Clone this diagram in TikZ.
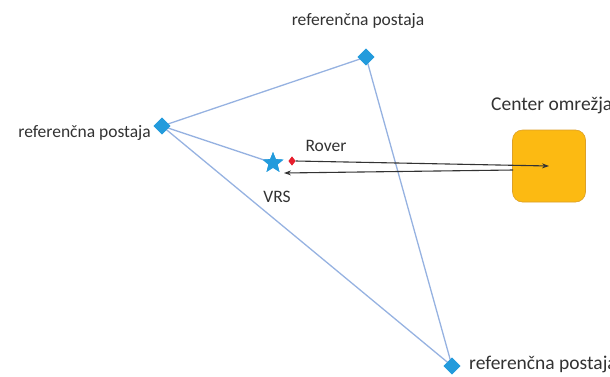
\documentclass[tikz,border=0pt]{standalone}
\usepackage{fontspec}
\setmainfont{Carlito}
\usetikzlibrary{shapes.geometric,arrows.meta}
\definecolor{linkblue}{RGB}{150,178,225}
\definecolor{stblue}{RGB}{35,155,220}
\definecolor{boxorange}{RGB}{252,186,18}
\definecolor{boxedge}{RGB}{220,160,40}
\definecolor{txt}{RGB}{50,50,50}
\definecolor{roverred}{RGB}{230,30,45}
\tikzset{
  station/.style={diamond,fill=stblue,draw=none,minimum width=17pt,minimum height=17pt,inner sep=0pt},
  link/.style={draw=linkblue,line width=1.3pt},
  lbl/.style={text=txt,font=\fontsize{17.5}{20}\selectfont,inner sep=0pt},
  biglbl/.style={text=txt,font=\fontsize{19.5}{22}\selectfont,inner sep=0pt},
  sig/.style={draw=black!80,line width=1.1pt,-{Stealth[length=7pt,width=5pt]}},
}
\begin{document}
\begin{tikzpicture}[x=1pt,y=-1pt]
\useasboundingbox (0,0) rectangle (610,376);
\clip (0,0) rectangle (610,376);
\node[station] (top) at (366,57) {};
\node[station] (left) at (162,126) {};
\node[station] (bot) at (452,366) {};
\node[star,star points=5,star point ratio=2.3,fill=stblue,minimum size=22pt,inner sep=0pt] (vrs) at (273,163) {};
\node[diamond,fill=roverred,minimum width=7pt,minimum height=9pt,inner sep=0pt] (rover) at (292,161) {};
\node[rounded corners=10pt,fill=boxorange,draw=boxedge,line width=0.6pt,minimum width=73pt,minimum height=72pt] (center) at (549,166) {};
\coordinate (inpt) at (549,166);
\coordinate (outpt) at (513,170);
\coordinate (vrsin) at (284,173);
\draw[link] (left.center) -- (top.center);
\draw[link] (top.center) -- (bot.center);
\draw[link] (left.center) -- (bot.center);
\draw[link] (left.center) -- (vrs.center);
\node[station] at (366,57) {};
\node[station] at (162,126) {};
\node[station] at (452,366) {};
\node[star,star points=5,star point ratio=2.3,fill=stblue,minimum size=22pt,inner sep=0pt] at (273,163) {};
\draw[sig] (rover.east) -- (inpt);
\draw[sig] (outpt) -- (vrsin);
\node[diamond,fill=roverred,minimum width=7pt,minimum height=9pt,inner sep=0pt] at (292,161) {};
\node[lbl,anchor=base] (ltop) at (358,25) {referenčna postaja};
\node[lbl,anchor=base east] (lleft) at (151,137) {referenčna postaja};
\node[biglbl,anchor=base west] (lbot) at (469,369) {referenčna postaja};
\node[biglbl,anchor=base west] (lcenter) at (491,110) {Center omrežja};
\node[lbl,anchor=base] (lrover) at (326,151) {Rover};
\node[lbl,anchor=base] (lvrs) at (277,202) {VRS};
\end{tikzpicture}
\end{document}
